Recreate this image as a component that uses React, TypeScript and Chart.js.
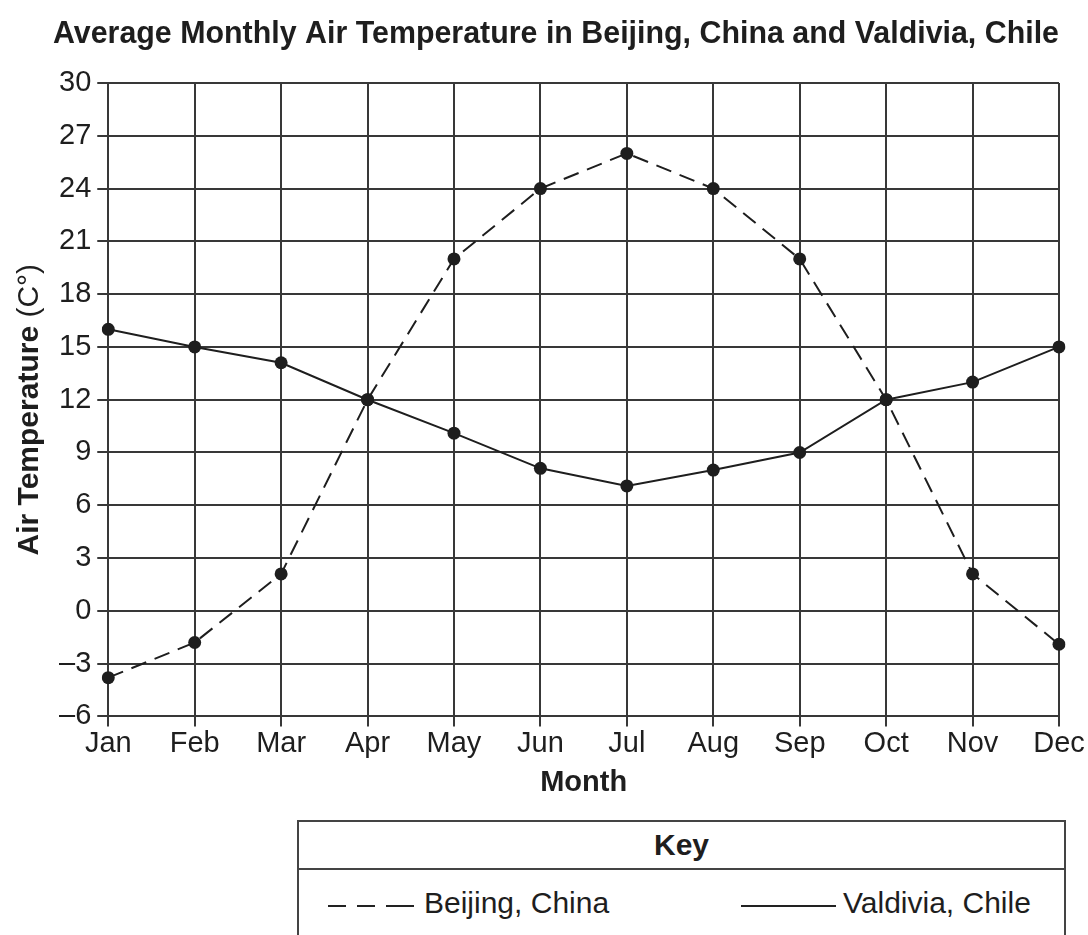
import React, { useEffect, useRef } from "react";
import { Chart, registerables } from "chart.js";

Chart.register(...registerables);

const months = ["Jan", "Feb", "Mar", "Apr", "May", "Jun", "Jul", "Aug", "Sep", "Oct", "Nov", "Dec"];
const beijing = [-3.8, -1.8, 2.1, 12, 20, 24, 26, 24, 20, 12, 2.1, -1.9];
const valdivia = [16, 15, 14.1, 12, 10.1, 8.1, 7.1, 8, 9, 12, 13, 15];
const yMin = -6;
const yMax = 30;
const yStep = 3;
const titleText = "Average Monthly Air Temperature in Beijing, China and Valdivia, Chile";
const yTitleBold = "Air Temperature";
const yTitleNormal = " (C\u00b0)";
const xTitleText = "Month";
const keyTitle = "Key";
const beijingLabel = "Beijing, China";
const valdiviaLabel = "Valdivia, Chile";

const FONT = "'Liberation Sans', Arial, Helvetica, sans-serif";
const INK = "#1e1e1e";
const GRID = "#383838";

const yTitlePlugin = {
  id: "yTitleMixed",
  afterDraw(chart: any) {
    const { ctx, chartArea } = chart;
    const cy = (chartArea.top + chartArea.bottom) / 2 + 10;
    const x = 30;
    ctx.save();
    ctx.translate(x, cy);
    ctx.rotate(-Math.PI / 2);
    ctx.fillStyle = INK;
    ctx.textBaseline = "middle";
    const boldFont = `bold 30px ${FONT}`;
    const normFont = `30px ${FONT}`;
    ctx.font = boldFont;
    const w1 = ctx.measureText(yTitleBold).width;
    ctx.font = normFont;
    const w2 = ctx.measureText(yTitleNormal).width;
    const start = -(w1 + w2) / 2;
    ctx.textAlign = "left";
    ctx.font = boldFont;
    ctx.fillText(yTitleBold, start, 0);
    ctx.font = normFont;
    ctx.fillText(yTitleNormal, start + w1, 0);
    ctx.restore();
  },
};

function ChartCanvas() {
  const ref = useRef<HTMLCanvasElement | null>(null);
  useEffect(() => {
    if (!ref.current) return;
    const chart = new Chart(ref.current, {
      type: "line",
      data: {
        labels: months,
        datasets: [
          {
            label: beijingLabel,
            data: beijing,
            borderColor: INK,
            backgroundColor: INK,
            borderWidth: 2,
            borderDash: [16, 9],
            pointRadius: 6.5,
            pointBackgroundColor: INK,
            pointBorderWidth: 0,
            tension: 0,
          },
          {
            label: valdiviaLabel,
            data: valdivia,
            borderColor: INK,
            backgroundColor: INK,
            borderWidth: 2,
            pointRadius: 6.5,
            pointBackgroundColor: INK,
            pointBorderWidth: 0,
            tension: 0,
          },
        ],
      },
      options: {
        animation: false,
        responsive: false,
        maintainAspectRatio: false,
        layout: { padding: { left: 53, right: 29, top: 0, bottom: 10 } },
        plugins: {
          legend: { display: false },
          tooltip: { enabled: false },
          title: {
            display: true,
            text: titleText,
            color: INK,
            font: { family: FONT, size: 32, weight: "bold" },
            padding: { top: 15, bottom: 29.6 },
          },
        },
        scales: {
          x: {
            type: "category",
            offset: false,
            grid: { color: GRID, lineWidth: 2, tickLength: 10, drawTicks: true },
            border: { color: GRID, width: 2 },
            ticks: { color: INK, font: { family: FONT, size: 29 }, padding: 0, maxRotation: 0, autoSkip: false },
            title: { display: true, text: xTitleText, color: INK, font: { family: FONT, size: 29, weight: "bold" }, padding: { top: 4, bottom: 0 } },
          },
          y: {
            min: yMin,
            max: yMax,
            grid: { color: GRID, lineWidth: 2, tickLength: 11, drawTicks: true },
            border: { color: GRID, width: 2 },
            ticks: {
              stepSize: yStep,
              color: INK,
              font: { family: FONT, size: 29 },
              padding: 6,
              callback: (v: any) => (Number(v) < 0 ? "\u2013" + Math.abs(Number(v)) : String(v)),
            },
          },
        },
      },
      plugins: [yTitlePlugin],
    });
    return () => chart.destroy();
  }, []);
  return <canvas ref={ref} width={1088} height={810} style={{ display: "block", width: 1088, height: 810 }} />;
}

export default function App() {
  const dashStyle = (left: number, width: number) => ({
    position: "absolute" as const,
    left,
    top: 35,
    width,
    height: 2,
    background: "#222",
  });
  return (
    <div style={{ position: "fixed", left: 0, top: 0, width: 1088, height: 935, overflow: "hidden", background: "#fff", fontFamily: FONT, color: INK }}>
      <div style={{ position: "absolute", left: 0, top: 0 }}>
        <ChartCanvas />
      </div>
      <div style={{ position: "absolute", left: 297, top: 820, width: 769, height: 140, border: "2px solid #444", boxSizing: "border-box" }}>
        <div style={{ height: 46, borderBottom: "2px solid #444", display: "flex", alignItems: "center", justifyContent: "center", fontWeight: "bold", fontSize: 30 }}>
          {keyTitle}
        </div>
        <div style={{ position: "relative", height: 60 }}>
          <div style={dashStyle(29, 18)} />
          <div style={dashStyle(58, 18)} />
          <div style={dashStyle(87, 28)} />
          <div style={{ position: "absolute", left: 125, top: 16, fontSize: 30, lineHeight: "34px", whiteSpace: "nowrap" }}>{beijingLabel}</div>
          <div style={dashStyle(442, 95)} />
          <div style={{ position: "absolute", left: 544, top: 16, fontSize: 30, lineHeight: "34px", whiteSpace: "nowrap" }}>{valdiviaLabel}</div>
        </div>
      </div>
    </div>
  );
}
